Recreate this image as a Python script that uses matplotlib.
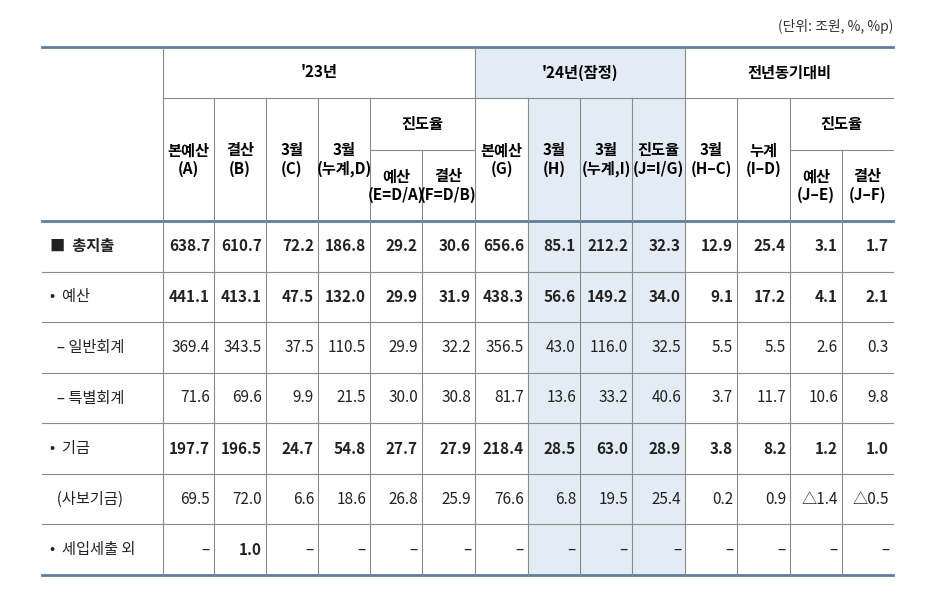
import matplotlib.pyplot as plt
from matplotlib.patches import Rectangle

plt.rcParams['font.family'] = ['Noto Sans CJK KR', 'DejaVu Sans']

# row labels and values (A..F, G..J, H-C, I-D, J-E, J-F)
row_labels = ['■  총지출', '•  예산', '  – 일반회계', '  – 특별회계', '•  기금', '  (사보기금)', '•  세입세출 외']
row_bold = [True, True, False, False, True, False, False]
values = [
    ['638.7', '610.7', '72.2', '186.8', '29.2', '30.6', '656.6', '85.1', '212.2', '32.3', '12.9', '25.4', '3.1', '1.7'],
    ['441.1', '413.1', '47.5', '132.0', '29.9', '31.9', '438.3', '56.6', '149.2', '34.0', '9.1', '17.2', '4.1', '2.1'],
    ['369.4', '343.5', '37.5', '110.5', '29.9', '32.2', '356.5', '43.0', '116.0', '32.5', '5.5', '5.5', '2.6', '0.3'],
    ['71.6', '69.6', '9.9', '21.5', '30.0', '30.8', '81.7', '13.6', '33.2', '40.6', '3.7', '11.7', '10.6', '9.8'],
    ['197.7', '196.5', '24.7', '54.8', '27.7', '27.9', '218.4', '28.5', '63.0', '28.9', '3.8', '8.2', '1.2', '1.0'],
    ['69.5', '72.0', '6.6', '18.6', '26.8', '25.9', '76.6', '6.8', '19.5', '25.4', '0.2', '0.9', '△1.4', '△0.5'],
    ['–', '1.0', '–', '–', '–', '–', '–', '–', '–', '–', '–', '–', '–', '–'],
]
col_heads = ['본예산\n(A)', '결산\n(B)', '3월\n(C)', '3월\n(누계,D)', '예산\n(E=D/A)', '결산\n(F=D/B)',
             '본예산\n(G)', '3월\n(H)', '3월\n(누계,I)', '진도율\n(J=I/G)', '3월\n(H–C)', '누계\n(I–D)',
             '예산\n(J–E)', '결산\n(J–F)']
groups = ["'23년", "'24년(잠정)", '전년동기대비']

W, H = 935, 603
xs = [42, 163, 214, 266, 318, 370, 422, 475, 528, 580, 632, 685, 737, 790, 842, 893]
y_top, y_g, y_sub, y_body, y_bot = 47, 98, 150, 221, 575
rh = (y_bot - y_body) / len(row_labels)
shade = '#e3ecf4'
grid = '#8a8a8a'
edge = '#5f7f9e'

fig = plt.figure(figsize=(W / 100, H / 100), dpi=100)
ax = fig.add_axes([0, 0, 1, 1])
ax.set_xlim(0, W)
ax.set_ylim(H, 0)
ax.axis('off')

# shading
ax.add_patch(Rectangle((xs[7], y_top), xs[11] - xs[7], y_g - y_top, color=shade, lw=0))
ax.add_patch(Rectangle((xs[8], y_g), xs[11] - xs[8], y_bot - y_g, color=shade, lw=0))

# horizontal lines
ax.plot([xs[1], xs[-1]], [y_g, y_g], color=grid, lw=0.8)
for a, b in [(5, 7), (13, 15)]:
    ax.plot([xs[a], xs[b]], [y_sub, y_sub], color=grid, lw=0.8)
for i in range(1, len(row_labels)):
    y = y_body + i * rh
    ax.plot([xs[0], xs[-1]], [y, y], color=grid, lw=0.8)
for y in [y_top, y_body, y_bot]:
    ax.plot([xs[0], xs[-1]], [y, y], color=edge, lw=2)

# vertical lines
for i, x in enumerate(xs[1:-1], start=1):
    y0 = y_top if i in (1, 7, 11) else y_g
    if i in (6, 14):
        y0 = y_sub
    ax.plot([x, x], [y0, y_bot], color=grid, lw=0.8)

fs = 11
# group headers
for g, (a, b) in zip(groups, [(1, 7), (7, 11), (11, 15)]):
    ax.text((xs[a] + xs[b]) / 2, (y_top + y_g) / 2, g, ha='center', va='center', fontsize=fs, fontweight='bold')
for a, b in [(5, 7), (13, 15)]:
    ax.text((xs[a] + xs[b]) / 2, (y_g + y_sub) / 2, '진도율', ha='center', va='center', fontsize=fs, fontweight='bold')

for j, h in enumerate(col_heads):
    cx = (xs[j + 1] + xs[j + 2]) / 2
    if j in (4, 5, 12, 13):
        cy = (y_sub + y_body) / 2
    else:
        cy = (y_g + y_body) / 2
    ax.text(cx, cy, h, ha='center', va='center', fontsize=fs, linespacing=1.15, fontweight='bold')

for i, (lab, bold, vals) in enumerate(zip(row_labels, row_bold, values)):
    cy = y_body + (i + 0.5) * rh
    ax.text(xs[0] + 8, cy, lab, ha='left', va='center', fontsize=fs,
            fontweight='bold' if i == 0 else 'normal', color='#222222')
    for j, v in enumerate(vals):
        b = bold or (i == 6 and v != '–')
        ax.text(xs[j + 2] - 4, cy, v, ha='right', va='center', fontsize=fs,
                fontweight='bold' if b else 'normal', color='#222222')

ax.text(xs[-1], 27, '(단위: 조원, %, %p)', ha='right', va='center', fontsize=10, color='#333333')

fig.savefig('out.png', dpi=100)
